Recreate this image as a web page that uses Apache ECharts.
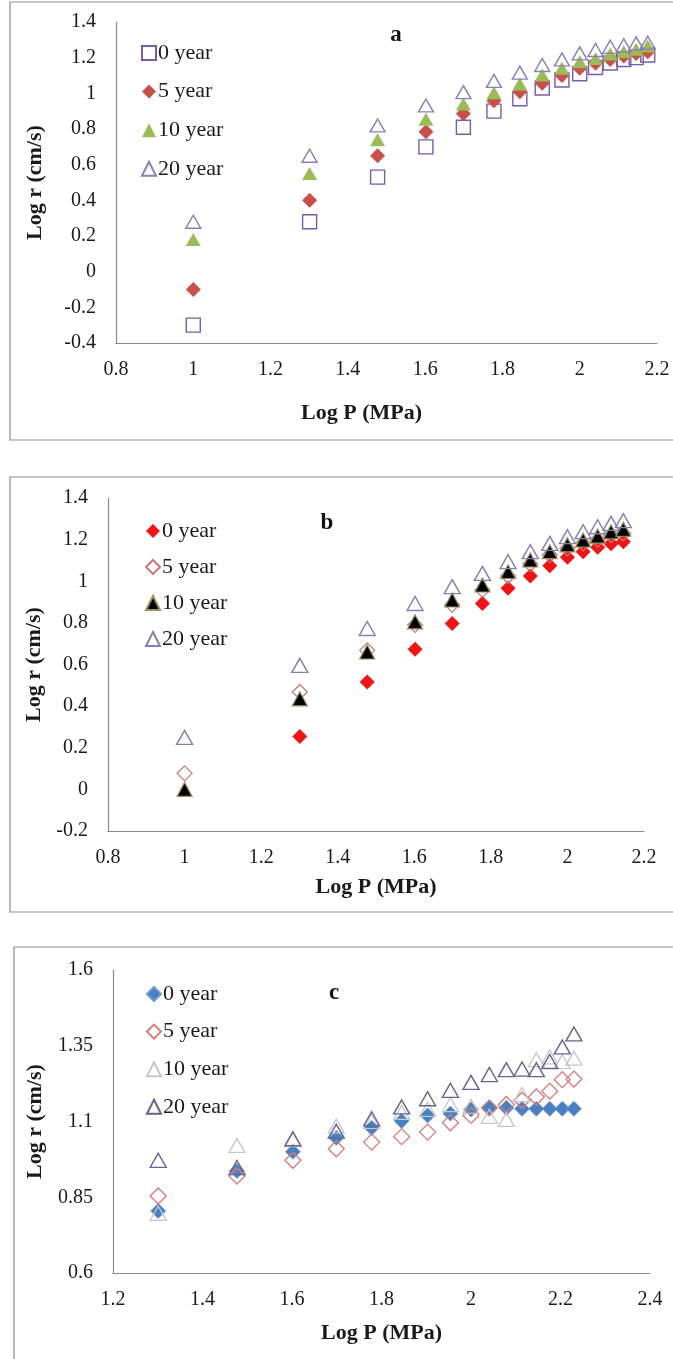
<!DOCTYPE html>
<html>
<head>
<meta charset="utf-8">
<script src="https://cdn.jsdelivr.net/npm/echarts@6/dist/echarts.min.js"></script>
<style>
html,body{margin:0;padding:0;background:#fff;}
#chart{width:673px;height:1359px;}
</style>
</head>
<body>
<div id="chart"></div>
<script>
// ---- data ----
const legendNames = ['0 year', '5 year', '10 year', '20 year'];
const panelTitles = ['a', 'b', 'c'];
const xTitle = 'Log P (MPa)';
const yTitle = 'Log r (cm/s)';

// Panel a
const logPa = [1, 1.301, 1.477, 1.602, 1.699, 1.778, 1.845, 1.903, 1.954, 2.0, 2.041, 2.079, 2.114, 2.146, 2.176];
const a0 = [-0.30, 0.28, 0.53, 0.70, 0.81, 0.90, 0.97, 1.03, 1.075, 1.11, 1.145, 1.17, 1.19, 1.20, 1.215];
const a5 = [-0.10, 0.40, 0.65, 0.785, 0.885, 0.958, 1.009, 1.056, 1.10, 1.14, 1.168, 1.19, 1.209, 1.224, 1.233];
const a10 = [0.18, 0.55, 0.74, 0.855, 0.94, 1.003, 1.052, 1.103, 1.14, 1.177, 1.196, 1.22, 1.233, 1.247, 1.265];
const a20 = [0.28, 0.65, 0.82, 0.932, 1.007, 1.07, 1.116, 1.159, 1.19, 1.224, 1.243, 1.261, 1.27, 1.28, 1.284];

// Panel b
const logPb = [1, 1.301, 1.477, 1.602, 1.699, 1.778, 1.845, 1.903, 1.954, 2.0, 2.041, 2.079, 2.114, 2.146];
const b0 = [null, 0.254, 0.516, 0.673, 0.797, 0.893, 0.966, 1.025, 1.075, 1.115, 1.142, 1.163, 1.18, 1.19];
const b5 = [0.077, 0.468, 0.668, 0.79, 0.887, 0.958, 1.025, 1.083, 1.127, 1.158, 1.182, 1.2, 1.222, 1.23];
const b10 = [0.0, 0.435, 0.66, 0.805, 0.91, 0.982, 1.046, 1.102, 1.142, 1.175, 1.198, 1.217, 1.238, 1.25];
const b20 = [0.25, 0.596, 0.773, 0.893, 0.974, 1.038, 1.094, 1.142, 1.182, 1.214, 1.238, 1.262, 1.278, 1.291];

// Panel c
const logPc = [1.301, 1.477, 1.602, 1.699, 1.778, 1.845, 1.903, 1.954, 2.0, 2.041, 2.079, 2.114, 2.146, 2.176, 2.204, 2.230];
const c0 = [0.805, 0.937, 1.0, 1.046, 1.079, 1.102, 1.12, 1.126, 1.14, 1.145, 1.145, 1.142, 1.142, 1.142, 1.142, 1.142];
const c5 = [0.854, 0.92, 0.972, 1.01, 1.032, 1.05, 1.065, 1.096, 1.12, 1.145, 1.156, 1.17, 1.181, 1.2, 1.238, 1.24];
const c10 = [0.797, 1.021, 1.04, 1.085, 1.10, 1.13, 1.14, 1.156, 1.15, 1.117, 1.107, 1.189, 1.304, 1.313, 1.298, 1.309];
const c20 = [0.972, 0.948, 1.043, 1.068, 1.109, 1.148, 1.175, 1.203, 1.229, 1.255, 1.271, 1.273, 1.271, 1.298, 1.346, 1.389];

const yTicksA = [-0.4, -0.2, 0, 0.2, 0.4, 0.6, 0.8, 1, 1.2, 1.4];
const yTicksB = [-0.2, 0, 0.2, 0.4, 0.6, 0.8, 1, 1.2, 1.4];
const yTicksC = [0.6, 0.85, 1.1, 1.35, 1.6];
const xTicksAB = [0.8, 1, 1.2, 1.4, 1.6, 1.8, 2, 2.2];
const xTicksC = [1.2, 1.4, 1.6, 1.8, 2, 2.2, 2.4];

// ---- build ----
const FONT = 'Liberation Serif, Times New Roman, serif';
function pairs(xs, ys) {
  const out = [];
  xs.forEach((x, i) => { if (ys[i] !== null && ys[i] !== undefined) out.push([x, ys[i]]); });
  return out;
}
const suffix = ['', ' ', '  '];
function nm(i, p) { return legendNames[i] + suffix[p]; }

const styles = [
  // panel a
  [
    {symbol: 'rect', size: 14, color: 'rgba(0,0,0,0)', border: '#7A5BA6', bw: 1.4},
    {symbol: 'diamond', size: 15, color: '#C8504A', border: '#C8504A', bw: 0},
    {symbol: 'triangle', size: [15, 13], color: '#9BBB59', border: '#9BBB59', bw: 0},
    {symbol: 'triangle', size: [15, 13], color: 'rgba(0,0,0,0)', border: '#8A80B6', bw: 1.4}
  ],
  // panel b
  [
    {symbol: 'diamond', size: 15, color: '#F01414', border: '#F01414', bw: 0},
    {symbol: 'diamond', size: 15, color: 'rgba(0,0,0,0)', border: '#C47B78', bw: 1.2},
    {symbol: 'triangle', size: [15, 14], color: '#000000', border: '#9A9060', bw: 1.2},
    {symbol: 'triangle', size: [16, 14], color: 'rgba(0,0,0,0)', border: '#8480B0', bw: 1.4}
  ],
  // panel c
  [
    {symbol: 'diamond', size: 15, color: '#4A80C0', border: '#6A9AD0', bw: 0.8},
    {symbol: 'diamond', size: 16, color: 'rgba(0,0,0,0)', border: '#D77A78', bw: 1.3},
    {symbol: 'triangle', size: [16, 14], color: 'rgba(0,0,0,0)', border: '#C6C6C6', bw: 1.3},
    {symbol: 'triangle', size: [16, 14], color: 'rgba(0,0,0,0)', border: '#676390', bw: 1.4}
  ]
];

const dataSets = [
  [pairs(logPa, a0), pairs(logPa, a5), pairs(logPa, a10), pairs(logPa, a20)],
  [pairs(logPb, b0), pairs(logPb, b5), pairs(logPb, b10), pairs(logPb, b20)],
  [pairs(logPc, c0), pairs(logPc, c5), pairs(logPc, c10), pairs(logPc, c20)]
];

const series = [];
for (let p = 0; p < 3; p++) {
  for (let i = 0; i < 4; i++) {
    const s = styles[p][i];
    series.push({
      type: 'scatter',
      name: nm(i, p),
      xAxisIndex: p,
      yAxisIndex: p,
      symbol: s.symbol,
      symbolSize: s.size,
      z: 2 + i,
      itemStyle: {color: s.color, borderColor: s.border, borderWidth: s.bw, opacity: 1},
      emphasis: {disabled: true},
      data: dataSets[p][i]
    });
  }
}

const grids = [
  {left: 116, right: 16, top: 22, bottom: 1016},
  {left: 108, right: 29, top: 498, bottom: 528},
  {left: 113, right: 23, top: 970, bottom: 86}
];

const axisLine = {show: true, onZero: false, lineStyle: {color: '#8c8c8c', width: 1.2}};
const labelStyle = {color: '#1a1a1a', fontFamily: FONT, fontSize: 20};
const nameStyle = {color: '#1a1a1a', fontFamily: FONT, fontSize: 22, fontWeight: 'bold'};

const xRanges = [[0.8, 2.2, xTicksAB], [0.8, 2.2, xTicksAB], [1.2, 2.4, xTicksC]];
const yRanges = [[-0.4, 1.4, yTicksA], [-0.2, 1.4, yTicksB], [0.6, 1.6, yTicksC]];
const xNameGap = [59, 45, 49];
const xNamePad = [[0, 50, 0, 0], [0, 0, 0, 0], [0, 0, 0, 0]];
const yNameGap = [70, 63, 67];

const xAxis = xRanges.map((r, p) => ({
  type: 'value', gridIndex: p, min: r[0], max: r[1], interval: 0.2,
  axisLine: axisLine, axisTick: {show: false}, splitLine: {show: false},
  axisLabel: Object.assign({margin: 17, customValues: r[2]}, labelStyle),
  name: xTitle, nameLocation: 'middle', nameGap: xNameGap[p],
  nameTextStyle: Object.assign({padding: xNamePad[p]}, nameStyle)
}));
const yAxis = yRanges.map((r, p) => ({
  type: 'value', gridIndex: p, min: r[0], max: r[1],
  interval: p === 2 ? 0.25 : 0.2,
  axisLine: axisLine, axisTick: {show: false}, splitLine: {show: false},
  axisLabel: Object.assign({margin: 20, customValues: r[2], formatter: v => String(Math.round(v * 100) / 100)}, labelStyle),
  name: yTitle, nameLocation: 'middle', nameGap: yNameGap[p], nameRotate: 90,
  nameTextStyle: nameStyle
}));

const legendPos = [
  {left: 141, top: 42, itemGap: 16.6},
  {left: 145, top: 520, itemGap: 14.0},
  {left: 146, top: 983, itemGap: 15.6}
];
const legend = legendPos.map((lp, p) => ({
  orient: 'vertical', left: lp.left, top: lp.top, itemGap: lp.itemGap,
  itemWidth: 14, itemHeight: 14, padding: 0,
  selectedMode: false,
  data: legendNames.map((n, i) => nm(i, p)),
  formatter: n => n.trim(),
  textStyle: {color: '#1a1a1a', fontFamily: FONT, fontSize: 22, lineHeight: 21, padding: [0, 0, 0, -3]}
}));

const titlePos = [[396, 35], [327, 523], [334, 993]];
const graphic = [
  {type: 'rect', shape: {x: 10, y: 2, width: 680, height: 438}, style: {fill: 'none', stroke: '#8c8c8c', lineWidth: 1.2}, silent: true, z: -1},
  {type: 'rect', shape: {x: 10, y: 477, width: 680, height: 435}, style: {fill: 'none', stroke: '#8c8c8c', lineWidth: 1.2}, silent: true, z: -1},
  {type: 'rect', shape: {x: 14, y: 947, width: 680, height: 440}, style: {fill: 'none', stroke: '#8c8c8c', lineWidth: 1.2}, silent: true, z: -1}
].concat(titlePos.map((tp, p) => ({
  type: 'text', x: tp[0], y: tp[1],
  style: {text: panelTitles[p], fontFamily: FONT, fontSize: 23, fontWeight: 'bold', fill: '#111', align: 'center', verticalAlign: 'middle'},
  silent: true
})));

const chart = echarts.init(document.getElementById('chart'), null, {renderer: 'canvas'});
chart.setOption({
  backgroundColor: '#ffffff',
  animation: false,
  grid: grids,
  xAxis: xAxis,
  yAxis: yAxis,
  legend: legend,
  graphic: graphic,
  series: series
});
</script>
</body>
</html>
